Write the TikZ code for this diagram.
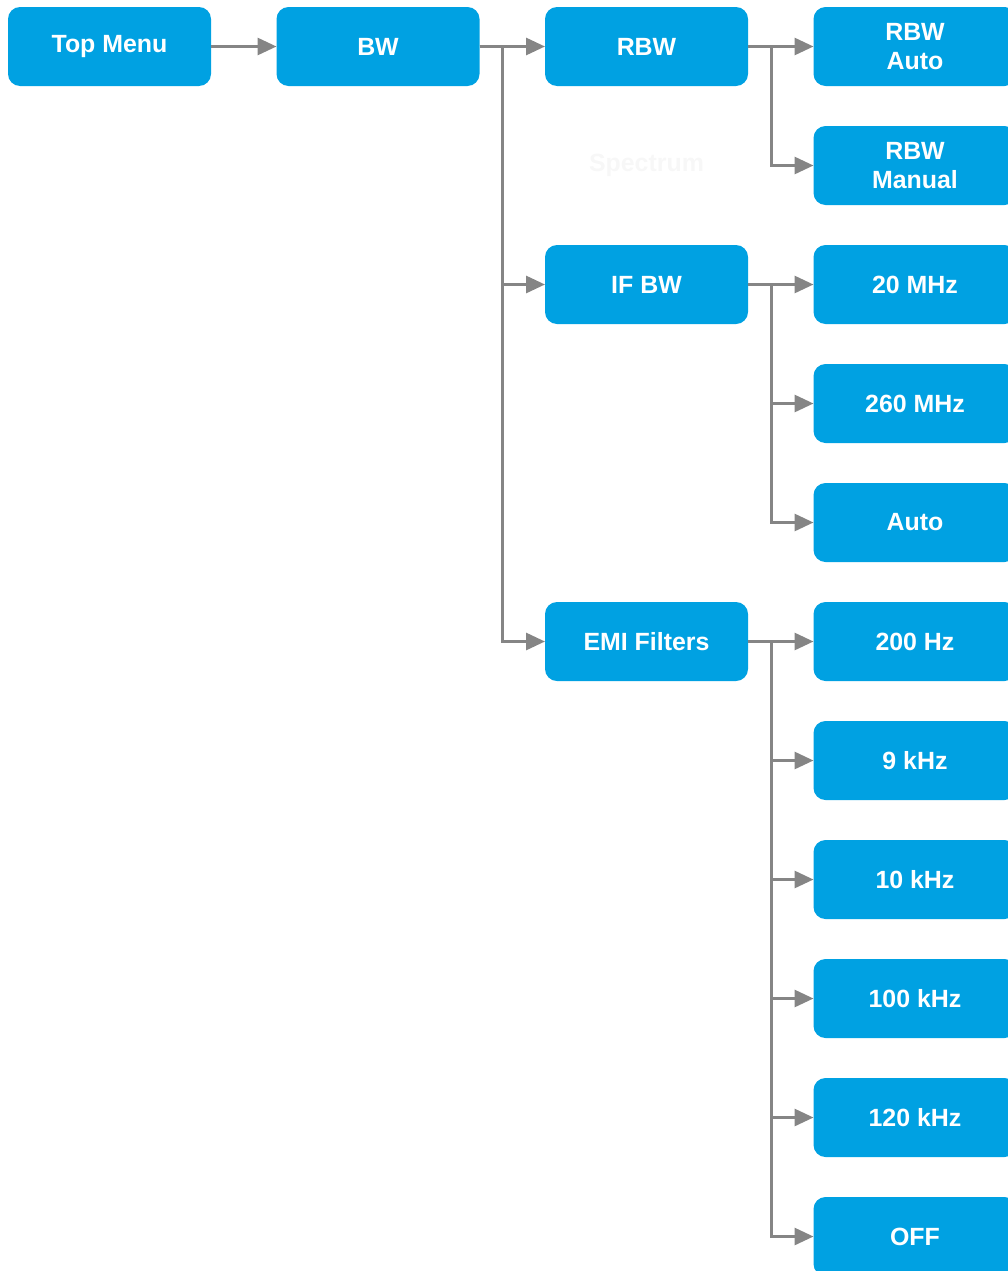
\documentclass[tikz,border=0pt]{standalone}
\usepackage{fontspec}
\setmainfont{Liberation Sans}
\usetikzlibrary{positioning,arrows.meta}
\definecolor{menublue}{HTML}{00A1E2}
\definecolor{linegray}{HTML}{858585}

\begin{document}
\begin{tikzpicture}[
  box/.style={rectangle, rounded corners=12bp, fill=menublue, text=white,
    font=\bfseries\fontsize{25}{29}\selectfont, align=center,
    minimum width=203bp, minimum height=79bp, inner sep=0pt, outer sep=0pt},
  arr/.style={draw=linegray, line width=3bp, -{Triangle[length=19bp,width=17bp]}},
  node distance=40bp and 65.5bp]
  \useasboundingbox (0,0) rectangle (1008bp,-1271bp);
  \clip (0,0) rectangle (1008bp,-1271bp);

  % first row
  \node[box] (topmenu) at (109.5bp,-46.5bp) {Top Menu};
  \node[box, right=of topmenu] (bw) {BW};
  \node[box, right=of bw] (rbw) {RBW};
  \node[box, right=of rbw] (rbwauto) {RBW\\Auto};

  % right column
  \node[box, below=of rbwauto] (rbwmanual) {RBW\\Manual};
  \node[box, below=of rbwmanual] (mhz20) {20 MHz};
  \node[box, below=of mhz20] (mhz260) {260 MHz};
  \node[box, below=of mhz260] (ifauto) {Auto};
  \node[box, below=of ifauto] (hz200) {200 Hz};
  \node[box, below=of hz200] (khz9) {9 kHz};
  \node[box, below=of khz9] (khz10) {10 kHz};
  \node[box, below=of khz10] (khz100) {100 kHz};
  \node[box, below=of khz100] (khz120) {120 kHz};
  \node[box, below=of khz120] (emioff) {OFF};

  % middle column
  \node[box, left=of mhz20] (ifbw) {IF BW};
  \node[box, left=of hz200] (emi) {EMI Filters};
  \node[text=black!3, font=\bfseries\fontsize{25}{29}\selectfont] (spectrum) at (rbw |- rbwmanual) {Spectrum};

  % connectors
  \draw[arr] (topmenu) -- (bw);
  \draw[arr] (bw) -- (rbw);
  \draw[arr] (bw.east) -- ++(23bp,0) |- (ifbw);
  \draw[arr] (bw.east) -- ++(23bp,0) |- (emi);
  \draw[arr] (rbw) -- (rbwauto);
  \draw[arr] (rbw.east) -- ++(23bp,0) |- (rbwmanual);
  \draw[arr] (ifbw) -- (mhz20);
  \foreach \n in {mhz260,ifauto}
    \draw[arr] (ifbw.east) -- ++(23bp,0) |- (\n);
  \draw[arr] (emi) -- (hz200);
  \foreach \n in {khz9,khz10,khz100,khz120,emioff}
    \draw[arr] (emi.east) -- ++(23bp,0) |- (\n);
\end{tikzpicture}
\end{document}
